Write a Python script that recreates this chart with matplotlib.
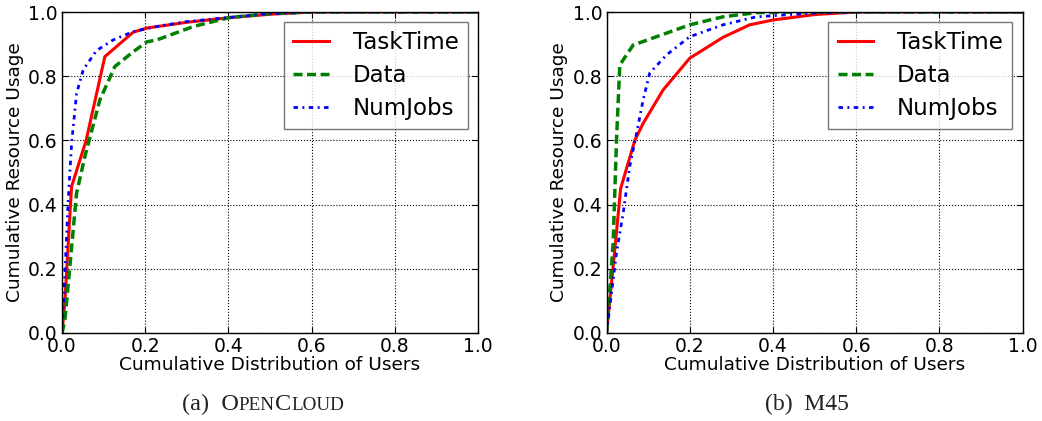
import matplotlib
matplotlib.use("Agg")
import matplotlib.pyplot as plt
from matplotlib.offsetbox import TextArea, HPacker, AnchoredOffsetbox

# Panel (a) OpenCloud
oc_task_x = [0.0, 0.007, 0.023, 0.058, 0.103, 0.171, 0.204, 0.3, 0.4, 0.5, 0.6, 1.0]
oc_task_y = [0.0, 0.10, 0.456, 0.60, 0.861, 0.937, 0.95, 0.968, 0.982, 0.993, 1.0, 1.0]
oc_data_x = [0.0, 0.007, 0.035, 0.055, 0.091, 0.127, 0.171, 0.204, 0.228, 0.316, 0.404, 0.5, 0.6, 1.0]
oc_data_y = [0.0, 0.04, 0.435, 0.55, 0.726, 0.83, 0.876, 0.907, 0.913, 0.955, 0.983, 0.995, 1.0, 1.0]
oc_jobs_x = [0.0, 0.007, 0.015, 0.023, 0.035, 0.051, 0.083, 0.123, 0.171, 0.228, 0.3, 0.4, 0.5, 0.6, 1.0]
oc_jobs_y = [0.0, 0.186, 0.414, 0.59, 0.746, 0.82, 0.88, 0.913, 0.939, 0.955, 0.97, 0.983, 0.995, 1.0, 1.0]

# Panel (b) M45
m45_task_x = [0.0, 0.016, 0.034, 0.068, 0.088, 0.136, 0.2, 0.28, 0.344, 0.4, 0.5, 0.6, 1.0]
m45_task_y = [0.0, 0.207, 0.45, 0.60, 0.653, 0.757, 0.856, 0.921, 0.96, 0.975, 0.992, 1.0, 1.0]
m45_data_x = [0.0, 0.008, 0.016, 0.024, 0.032, 0.064, 0.12, 0.2, 0.28, 0.36, 0.45, 1.0]
m45_data_y = [0.0, 0.134, 0.28, 0.60, 0.835, 0.897, 0.923, 0.96, 0.985, 0.998, 1.0, 1.0]
m45_jobs_x = [0.0, 0.008, 0.024, 0.04, 0.056, 0.072, 0.088, 0.104, 0.144, 0.2, 0.28, 0.36, 0.5, 0.6, 1.0]
m45_jobs_y = [0.0, 0.082, 0.25, 0.373, 0.52, 0.62, 0.726, 0.81, 0.866, 0.923, 0.96, 0.985, 0.997, 1.0, 1.0]

series_names = ["TaskTime", "Data", "NumJobs"]
ticks = [0.0, 0.2, 0.4, 0.6, 0.8, 1.0]
tick_labels = ["0.0", "0.2", "0.4", "0.6", "0.8", "1.0"]

fig = plt.figure(figsize=(10.42, 4.21), dpi=100)
W, H = 1042, 421
ax1 = fig.add_axes([62 / W, 1 - 333 / H, 416 / W, 321 / H])
ax2 = fig.add_axes([606.5 / W, 1 - 333 / H, 416 / W, 321 / H])

panels = [
    (ax1, (oc_task_x, oc_task_y), (oc_data_x, oc_data_y), (oc_jobs_x, oc_jobs_y)),
    (ax2, (m45_task_x, m45_task_y), (m45_data_x, m45_data_y), (m45_jobs_x, m45_jobs_y)),
]

for ax, t, d, j in panels:
    ax.plot(t[0], t[1], color="red", lw=2.2, ls="-", label=series_names[0])
    ax.plot(d[0], d[1], color="green", lw=2.5, ls=(0, (2.6, 1.3)), label=series_names[1])
    ax.plot(j[0], j[1], color="blue", lw=2.0, ls=(0, (1.6, 1.6, 0.7, 1.6)), label=series_names[2])
    ax.set_xlim(0, 1)
    ax.set_ylim(0, 1)
    ax.set_xticks(ticks)
    ax.set_yticks(ticks)
    ax.set_xticklabels(tick_labels)
    ax.set_yticklabels(tick_labels)
    ax.tick_params(direction="in", top=True, right=True, labelsize=13.5, length=4, pad=3)
    ax.grid(True, color="black", ls=":", lw=0.8)
    ax.set_xlabel("Cumulative Distribution of Users", fontsize=13.3, labelpad=0)
    ax.set_ylabel("Cumulative Resource Usage", fontsize=13.3, labelpad=3)
    for sp in ax.spines.values():
        sp.set_linewidth(1.0)
    leg = ax.legend(loc="upper right", fontsize=16.5, frameon=True, fancybox=False,
                    borderaxespad=0.45, handlelength=1.55, handletextpad=1.05,
                    borderpad=0.4, labelspacing=0.42)
    leg.get_frame().set_edgecolor("#555555")
    leg.get_frame().set_linewidth(1.0)


def caption(ax, parts):
    boxes = [TextArea(s, textprops=dict(fontfamily="Liberation Serif", fontsize=fs, color="#222222"))
             for s, fs in parts]
    pack = HPacker(children=boxes, align="baseline", pad=0, sep=0)
    ab = AnchoredOffsetbox(loc="center", child=pack, frameon=False,
                           bbox_to_anchor=(0.483, -0.222), bbox_transform=ax.transAxes, pad=0, borderpad=0)
    ax.add_artist(ab)


caption(ax1, [("(a)  O", 17.5), ("PEN", 13.8), ("C", 17.5), ("LOUD", 13.8)])
caption(ax2, [("(b)  M45", 17)])

fig.savefig("out.png", dpi=100)
